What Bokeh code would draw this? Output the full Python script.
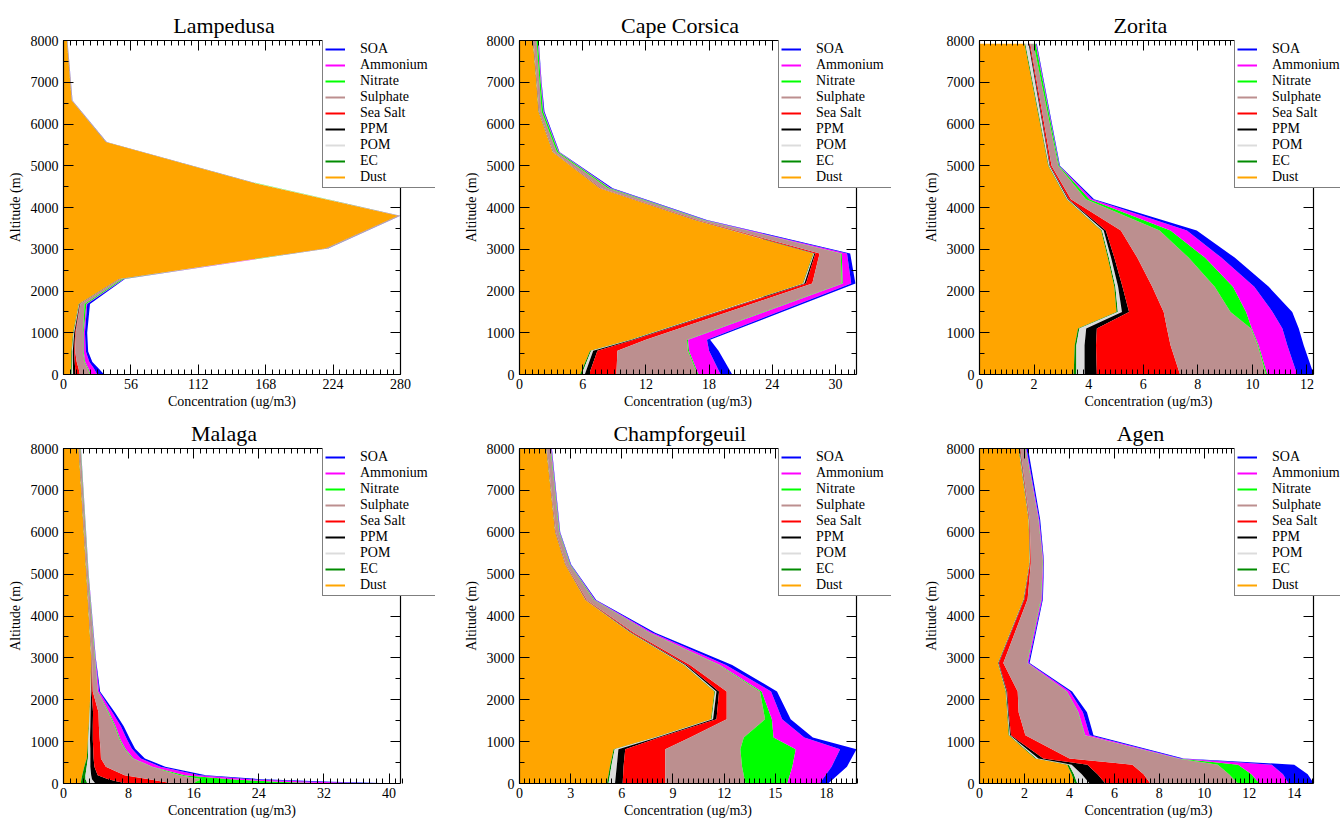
from bokeh.plotting import figure
from bokeh.models import (Range1d, FixedTicker, LinearAxis, Legend, LegendItem,
                          ColumnDataSource, CustomJSTickFormatter, Title)
from bokeh.layouts import column, row
from bokeh.embed import file_html
from bokeh.resources import INLINE

FONT = "Liberation Serif"

# ---------------------------------------------------------------- species
species_legend = ["SOA", "Ammonium", "Nitrate", "Sulphate", "Sea Salt", "PPM", "POM", "EC", "Dust"]
species_colors = ["#0000ff", "#ff00ff", "#00ff00", "#bc8f8f", "#ff0000", "#000000", "#dcdcdc", "#008b00", "#ffa500"]
stack_order = ["dust", "ec", "pom", "ppm", "seasalt", "sulphate", "nitrate", "ammonium", "soa"]
stack_colors = ["#ffa500", "#008b00", "#dcdcdc", "#000000", "#ff0000", "#bc8f8f", "#00ff00", "#ff00ff", "#0000ff"]

# ---------------------------------------------------------------- Lampedusa
lamp_alt      = [0, 150, 300, 550, 1000, 1690, 2290, 3020, 3800, 4600, 5570, 6560, 8000]
lamp_dust     = [6.0, 6.2, 6.4, 6.6, 8.0, 12.7, 46.0, 217.5, 278.0, 156.5, 35.0, 6.8, 2.8]
lamp_ec       = [0.8, 0.7, 0.6, 0.5, 0.4, 0.3, 0.2, 0.1, 0.1, 0.1, 0.1, 0.05, 0.05]
lamp_pom      = [1.2, 1.0, 0.8, 0.6, 0.5, 0.3, 0.2, 0.2, 0.2, 0.2, 0.1, 0.1, 0.05]
lamp_ppm      = [2.0, 1.8, 1.5, 1.2, 0.8, 0.4, 0.3, 0.2, 0.2, 0.1, 0.1, 0.05, 0.05]
lamp_seasalt  = [3.6, 2.8, 1.7, 0.8, 0.5, 0.3, 0.2, 0.2, 0.2, 0.1, 0.1, 0.05, 0.05]
lamp_sulphate = [8.4, 7.5, 6.5, 6.6, 6.1, 3.5, 1.8, 1.0, 0.7, 0.5, 0.3, 0.25, 0.15]
lamp_nitrate  = [0.6, 0.6, 0.5, 0.5, 0.5, 1.5, 1.2, 0.3, 0.2, 0.2, 0.1, 0.05, 0.05]
lamp_ammonium = [5.4, 4.6, 3.5, 1.8, 1.0, 0.7, 0.4, 0.2, 0.2, 0.1, 0.1, 0.05, 0.05]
lamp_soa      = [5.8, 3.8, 2.5, 1.9, 1.9, 2.3, 0.7, 0.3, 0.2, 0.2, 0.1, 0.1, 0.05]
lamp_xticks   = [0, 56, 112, 168, 224, 280]
lamp_xmax     = 280

# ---------------------------------------------------------------- Cape Corsica
cape_alt      = [0, 570, 830, 2180, 2900, 3700, 4460, 5330, 6300, 7000, 8000]
cape_dust     = [5.75, 6.7, 10.5, 26.9, 27.9, 16.6, 7.6, 3.15, 1.8, 1.6, 1.26]
cape_ec       = [0.15, 0.1, 0.1, 0.05, 0.05, 0.05, 0.02, 0.02, 0.02, 0.02, 0.02]
cape_pom      = [0.3, 0.2, 0.1, 0.1, 0.05, 0.05, 0.03, 0.03, 0.02, 0.02, 0.02]
cape_ppm      = [0.4, 0.4, 0.2, 0.15, 0.1, 0.05, 0.03, 0.02, 0.02, 0.02, 0.02]
cape_seasalt  = [2.6, 1.9, 1.1, 0.6, 0.4, 0.15, 0.07, 0.03, 0.02, 0.02, 0.02]
cape_sulphate = [7.7, 6.7, 3.9, 2.8, 2.0, 0.5, 0.65, 0.3, 0.22, 0.22, 0.28]
cape_nitrate  = [0.1, 0.1, 0.1, 0.1, 0.1, 0.15, 0.2, 0.15, 0.15, 0.12, 0.13]
cape_ammonium = [2.1, 1.9, 1.8, 0.8, 0.5, 0.1, 0.1, 0.05, 0.05, 0.05, 0.05]
cape_soa      = [1.1, 0.9, 0.3, 0.4, 0.3, 0.15, 0.15, 0.05, 0.07, 0.03, 0.03]
cape_xticks   = [0, 6, 12, 18, 24, 30]
cape_xmax     = 32

# ---------------------------------------------------------------- Zorita
zor_alt       = [0, 700, 1100, 1500, 2100, 2800, 3450, 4200, 5000, 7920]
zor_dust      = [3.45, 3.49, 3.61, 5.02, 4.94, 4.7, 4.46, 3.19, 2.52, 1.65]
zor_ec        = [0.1, 0.06, 0.05, 0.05, 0.04, 0.04, 0.03, 0.02, 0.02, 0.03]
zor_pom       = [0.3, 0.3, 0.25, 0.15, 0.1, 0.08, 0.06, 0.03, 0.03, 0.12]
zor_ppm       = [0.45, 0.42, 0.39, 0.26, 0.16, 0.12, 0.08, 0.03, 0.02, 0.03]
zor_seasalt   = [3.05, 2.73, 2.57, 1.27, 1.09, 0.84, 0.55, 0.08, 0.05, 0.03]
zor_sulphate  = [3.15, 3.2, 3.08, 2.45, 2.29, 1.88, 1.42, 0.55, 0.25, 0.12]
zor_nitrate   = [0.05, 0.03, 0.03, 0.57, 0.67, 0.6, 0.4, 0.13, 0.03, 0.08]
zor_ammonium  = [1.09, 1.05, 1.12, 0.97, 0.78, 0.6, 0.6, 0.1, 0.01, 0.02]
zor_soa       = [0.61, 0.6, 0.6, 0.72, 0.53, 0.49, 0.36, 0.07, 0.02, 0.02]
zor_xticks    = [0, 2, 4, 6, 8, 10, 12]
zor_xmax      = 12.25

# ---------------------------------------------------------------- Malaga
mal_alt       = [0, 40, 100, 200, 400, 600, 830, 1050, 1365, 1700, 2200, 3000, 5000, 8000]
mal_dust      = [2.1, 2.15, 2.2, 2.3, 2.55, 2.85, 2.95, 3.0, 3.1, 3.2, 3.3, 3.4, 2.8, 1.85]
mal_ec        = [0.8, 0.7, 0.5, 0.4, 0.3, 0.15, 0.1, 0.05, 0.05, 0.03, 0.02, 0.02, 0.02, 0.02]
mal_pom       = [1.0, 0.9, 0.8, 0.7, 0.45, 0.3, 0.25, 0.2, 0.15, 0.1, 0.05, 0.03, 0.02, 0.02]
mal_ppm       = [3.9, 3.0, 2.0, 0.8, 0.5, 0.4, 0.35, 0.35, 0.3, 0.3, 0.08, 0.02, 0.02, 0.02]
mal_seasalt   = [5.8, 5.5, 5.0, 3.3, 1.4, 0.9, 0.9, 0.85, 0.75, 0.67, 0.15, 0.03, 0.02, 0.02]
mal_sulphate  = [2.4, 4.0, 6.5, 6.8, 5.6, 3.9, 2.95, 2.45, 1.95, 1.2, 0.6, 0.35, 0.15, 0.17]
mal_nitrate   = [17.5, 10.0, 3.5, 0.6, 0.1, 0.1, 0.1, 0.1, 0.1, 0.1, 0.03, 0.05, 0.04, 0.03]
mal_ammonium  = [5.5, 4.5, 2.5, 1.8, 1.0, 0.9, 0.8, 0.8, 0.65, 0.4, 0.15, 0.04, 0.02, 0.01]
mal_soa       = [2.4, 2.25, 1.4, 0.8, 0.6, 0.5, 0.4, 0.4, 0.35, 0.3, 0.12, 0.03, 0.01, 0.01]
mal_xticks    = [0, 8, 16, 24, 32, 40]
mal_xmax      = 41.4

# ---------------------------------------------------------------- Champforgeuil
cha_alt       = [0, 400, 820, 1100, 1535, 2200, 2830, 3600, 4380, 5230, 6000, 8000]
cha_dust      = [5.13, 5.3, 5.52, 7.9, 11.23, 11.43, 9.63, 6.5, 3.86, 2.68, 2.09, 1.57]
cha_ec        = [0.09, 0.08, 0.06, 0.05, 0.04, 0.04, 0.03, 0.02, 0.01, 0.01, 0.01, 0.01]
cha_pom       = [0.38, 0.32, 0.22, 0.1, 0.08, 0.08, 0.06, 0.03, 0.02, 0.01, 0.01, 0.01]
cha_ppm       = [0.45, 0.4, 0.4, 0.15, 0.2, 0.15, 0.08, 0.05, 0.02, 0.01, 0.01, 0.01]
cha_seasalt   = [2.5, 2.45, 2.35, 1.8, 0.6, 0.45, 0.2, 0.1, 0.04, 0.02, 0.02, 0.01]
cha_sulphate  = [4.7, 4.5, 4.4, 3.15, 2.25, 1.95, 1.7, 0.9, 0.4, 0.22, 0.18, 0.21]
cha_nitrate   = [2.45, 2.95, 3.25, 1.75, 0.4, 0.1, 0.05, 0.05, 0.05, 0.03, 0.03, 0.03]
cha_ammonium  = [1.9, 2.3, 2.6, 1.8, 0.6, 0.55, 0.35, 0.15, 0.05, 0.02, 0.02, 0.03]
cha_soa       = [0.5, 0.9, 0.96, 0.5, 0.5, 0.35, 0.37, 0.16, 0.05, 0.03, 0.02, 0.02]
cha_xticks    = [0, 3, 6, 9, 12, 15, 18]
cha_xmax      = 19.76

# ---------------------------------------------------------------- Agen
agen_alt      = [0, 220, 450, 600, 1150, 1700, 2200, 2880, 4400, 5300, 6300, 8000]
agen_dust     = [4.24, 4.1, 3.9, 2.48, 1.3, 1.23, 1.16, 0.82, 1.96, 2.23, 2.18, 1.74]
agen_ec       = [0.11, 0.1, 0.08, 0.05, 0.03, 0.02, 0.02, 0.01, 0.01, 0.01, 0.01, 0.02]
agen_pom      = [0.55, 0.35, 0.12, 0.09, 0.03, 0.02, 0.02, 0.01, 0.01, 0.01, 0.01, 0.02]
agen_ppm      = [0.7, 0.7, 0.7, 0.22, 0.04, 0.03, 0.03, 0.02, 0.02, 0.01, 0.01, 0.02]
agen_seasalt  = [2.0, 2.05, 2.0, 1.16, 0.64, 0.44, 0.47, 0.2, 0.14, 0.03, 0.02, 0.02]
agen_sulphate = [3.9, 3.8, 3.8, 4.8, 2.64, 2.64, 2.17, 1.05, 0.59, 0.53, 0.39, 0.22]
agen_nitrate  = [0.95, 1.0, 0.9, 0.05, 0.02, 0.02, 0.02, 0.02, 0.02, 0.01, 0.01, 0.02]
agen_ammonium = [1.3, 1.4, 1.5, 0.1, 0.2, 0.2, 0.13, 0.05, 0.04, 0.02, 0.03, 0.03]
agen_soa      = [1.12, 1.1, 1.0, 0.13, 0.17, 0.18, 0.1, 0.05, 0.03, 0.02, 0.04, 0.07]
agen_xticks   = [0, 2, 4, 6, 8, 10, 12, 14]
agen_xmax     = 14.87

alt_ticks = [0, 1000, 2000, 3000, 4000, 5000, 6000, 7000, 8000]
x_label = "Concentration (ug/m3)"
y_label = "Altitude (m)"

# Times / Liberation Serif advance widths (1/1000 em) used to centre texts
_W = {"L": 611, "a": 444, "m": 778, "p": 500, "e": 444, "d": 500, "u": 500, "s": 389,
      "C": 667, " ": 250, "o": 500, "r": 333, "i": 278, "c": 444, "Z": 611, "t": 278,
      "M": 889, "l": 278, "g": 500, "h": 500, "f": 333, "A": 722, "n": 500, "(": 333,
      ")": 333, "/": 278, "3": 500}


def text_width(s, size):
    return sum(_W.get(ch, 500) for ch in s) * size / 1000.0


LEG_H = 148


def make_panel(title, alt, comps, xmax, xticks, minor_step,
               width, height, b_left, b_top, b_bottom, box_w, frame_w, leg_x):
    frame_h = height - b_top - b_bottom
    b_right = width - b_left - frame_w
    x_end = xmax * frame_w / box_w
    p = figure(width=width, height=height, output_backend="svg", toolbar_location=None,
               title=None, x_range=Range1d(0, x_end), y_range=Range1d(0, 8000),
               min_border_left=b_left, min_border_right=b_right,
               min_border_top=b_top, min_border_bottom=b_bottom,
               background_fill_color="white", border_fill_color="white")
    p.grid.visible = False
    p.outline_line_color = None

    data = dict(alt=alt)
    for name, vals in zip(stack_order, comps):
        data[name] = vals
    src = ColumnDataSource(data)
    p.harea_stack(stackers=stack_order, y="alt", color=stack_colors, source=src)

    nminor = int(round(xmax / minor_step))
    xminor = [round(i * minor_step, 6) for i in range(nminor + 1)]
    yminor = [v for v in range(0, 8001, 500)]

    def style(ax, labels=True):
        ax.major_tick_in = 10
        ax.major_tick_out = 0
        ax.minor_tick_in = 5
        ax.minor_tick_out = 0
        ax.major_tick_line_color = "black"
        ax.minor_tick_line_color = "black"
        ax.axis_line_color = "black"
        ax.axis_line_width = 1.2
        ax.major_label_text_font = FONT
        ax.major_label_text_font_size = "14px" if labels else "0px"
        ax.major_label_text_color = "black"
        ax.axis_label_text_font = FONT
        ax.axis_label_text_font_size = "14px"
        ax.axis_label_text_font_style = "normal"
        ax.axis_label_text_color = "black"

    blank = CustomJSTickFormatter(code="return ''")

    xb = p.xaxis[0]
    xb.ticker = FixedTicker(ticks=xticks, minor_ticks=xminor)
    style(xb)
    xb.bounds = (0, xmax)
    xb.major_label_standoff = 4

    yl = p.yaxis[0]
    yl.ticker = FixedTicker(ticks=alt_ticks, minor_ticks=yminor)
    style(yl)
    yl.major_label_standoff = 5
    yl.axis_label = y_label
    yl.axis_label_standoff = 5

    xt = LinearAxis(ticker=FixedTicker(ticks=xticks, minor_ticks=xminor), formatter=blank)
    style(xt, labels=False)
    xt.bounds = (0, xmax)
    xt.major_label_standoff = 0
    p.add_layout(xt, "above")

    yr = LinearAxis(ticker=FixedTicker(ticks=alt_ticks, minor_ticks=yminor), formatter=blank)
    style(yr, labels=False)
    yr.fixed_location = xmax
    yr.major_label_standoff = 0
    p.add_layout(yr, "right")

    # panel title, centred slightly left of the data box centre
    tw = text_width(title, 22)
    p.add_layout(Title(text=title, align="left", offset=box_w / 2 - 8 - tw / 2,
                       text_font=FONT, text_font_size="22px", text_font_style="normal",
                       text_color="black", standoff=6), "above")
    # x axis label, centred on the data box
    lw = text_width(x_label, 14)
    p.add_layout(Title(text=x_label, align="left", offset=box_w / 2 - lw / 2,
                       text_font=FONT, text_font_size="14px", text_font_style="normal",
                       text_color="black", standoff=0), "below")

    items = []
    for lab, col in zip(species_legend, species_colors):
        r = p.line(x=[-10, -5], y=[-100, -100], line_color=col, line_width=2)
        items.append(LegendItem(label=lab, renderers=[r]))
    leg = Legend(items=items, location=(leg_x, frame_h - LEG_H),
                 label_text_font=FONT, label_text_font_size="14px",
                 label_text_line_height=1.0,
                 label_text_color="black",
                 glyph_width=20, glyph_height=16, label_height=16,
                 label_width=74, label_standoff=15, spacing=0,
                 padding=2, margin=0,
                 border_line_color="black", border_line_width=1,
                 background_fill_color="white", background_fill_alpha=1.0)
    p.add_layout(leg, "center")
    return p


H1, T1, B1 = 410, 40, 36
H2, T2, B2 = 409, 38, 36

p1 = make_panel("Lampedusa", lamp_alt,
                [lamp_dust, lamp_ec, lamp_pom, lamp_ppm, lamp_seasalt, lamp_sulphate,
                 lamp_nitrate, lamp_ammonium, lamp_soa],
                lamp_xmax, lamp_xticks, 5.6, 460, H1, 63, T1, B1, 337, 372, 259)
p2 = make_panel("Cape Corsica", cape_alt,
                [cape_dust, cape_ec, cape_pom, cape_ppm, cape_seasalt, cape_sulphate,
                 cape_nitrate, cape_ammonium, cape_soa],
                cape_xmax, cape_xticks, 0.6, 460, H1, 59, T1, B1, 337, 372, 259)
p3 = make_panel("Zorita", zor_alt,
                [zor_dust, zor_ec, zor_pom, zor_ppm, zor_seasalt, zor_sulphate,
                 zor_nitrate, zor_ammonium, zor_soa],
                zor_xmax, zor_xticks, 0.2, 420, H1, 55, T1, B1, 338, 365, 255)
p4 = make_panel("Malaga", mal_alt,
                [mal_dust, mal_ec, mal_pom, mal_ppm, mal_seasalt, mal_sulphate,
                 mal_nitrate, mal_ammonium, mal_soa],
                mal_xmax, mal_xticks, 0.8, 460, H2, 63, T2, B2, 337, 372, 259)
p5 = make_panel("Champforgeuil", cha_alt,
                [cha_dust, cha_ec, cha_pom, cha_ppm, cha_seasalt, cha_sulphate,
                 cha_nitrate, cha_ammonium, cha_soa],
                cha_xmax, cha_xticks, 0.3, 460, H2, 59, T2, B2, 337, 372, 259)
p6 = make_panel("Agen", agen_alt,
                [agen_dust, agen_ec, agen_pom, agen_ppm, agen_seasalt, agen_sulphate,
                 agen_nitrate, agen_ammonium, agen_soa],
                agen_xmax, agen_xticks, 0.2, 420, H2, 55, T2, B2, 338, 365, 255)

layout = column(row(p1, p2, p3, spacing=0), row(p4, p5, p6, spacing=0), spacing=0)

open("out.html", "w").write(file_html(layout, INLINE))
